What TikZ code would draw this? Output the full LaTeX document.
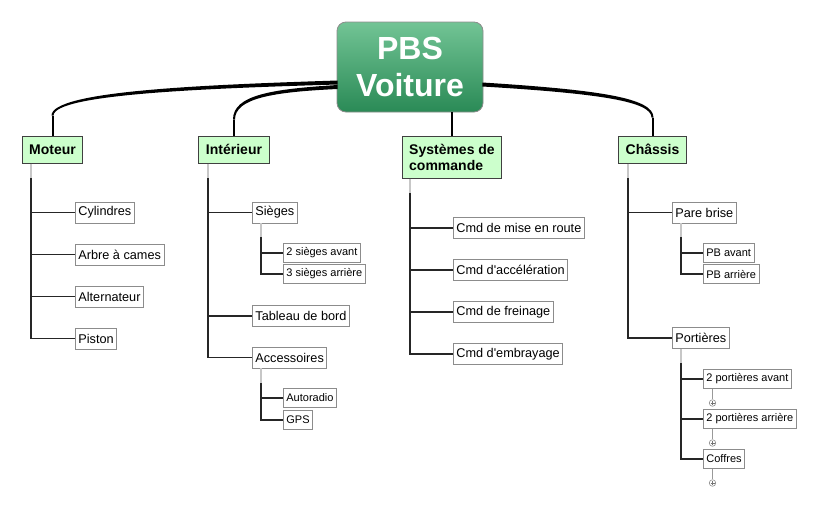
\documentclass[tikz,border=0pt]{standalone}
\usepackage{fontspec}
\setmainfont{Liberation Sans}[Ligatures=TeXOff]
\usetikzlibrary{calc}
\definecolor{brfill}{HTML}{CCFFCC}
\definecolor{roottop}{HTML}{72C495}
\definecolor{rootbot}{HTML}{2A8A56}
\tikzset{
  rootbox/.style={rounded corners=9pt, draw=black!45, line width=0.8pt, top color=roottop, bottom color=rootbot, text=white,
    font=\fontsize{32}{37}\selectfont\bfseries, align=center, minimum width=146pt, minimum height=90pt, inner sep=0pt},
  branchbox/.style={draw=black!75, line width=1pt, fill=brfill, font=\fontsize{14}{16}\selectfont\bfseries, align=left,
    inner xsep=7pt, inner ysep=0pt, minimum height=27pt},
  leaf/.style={draw=black!45, line width=0.8pt, fill=white, font=\fontsize{12.7}{14}\selectfont, anchor=west,
    inner xsep=3pt, inner ysep=0pt, minimum height=21pt},
  leafs/.style={draw=black!45, line width=0.8pt, fill=white, font=\fontsize{11}{13}\selectfont, anchor=west,
    inner xsep=3pt, inner ysep=0pt, minimum height=19pt},
  trunk/.style={draw=black!85, line width=1.2pt},
  stub/.style={draw=black!22, line width=1.2pt},
  thinstub/.style={draw=black!40, line width=0.8pt},
  mainline/.style={fill=black},
  plusnode/.style={circle, draw=black!45, line width=0.6pt, minimum size=6.5pt, inner sep=0pt},
  plusline/.style={draw=black!55, line width=0.5pt},
}
\begin{document}
\begin{tikzpicture}[x=1pt,y=-1pt]
\useasboundingbox (0,0) rectangle (820,509);

% root
\node[rootbox] (root) at (410,67) {PBS\\Voiture};

% branches
\node[branchbox] (moteur) at (52.5,149.5) {Moteur};
\node[branchbox] (inter) at (234,149.5) {Intérieur};
\node[branchbox, minimum height=42pt] (sys) at (452,157) {Systèmes de\\commande};
\node[branchbox] (chassis) at (652.5,149.5) {Châssis};

% main curved connectors (tapered)
\coordinate (mA) at ($(moteur.north)+(0,-20)$);
\coordinate (iA) at ($(inter.north)+(0,-16)$);
\coordinate (cA) at ($(chassis.north)+(0,-18)$);
\fill[mainline] ($(root.west)+(1,13.5)$) .. controls (200,85) and (51.8,91) .. ($(mA)+(-1,0)$)
   -- ($(mA)+(1,0)$) .. controls (54.2,94.5) and (200,88.5) .. ($(root.west)+(1,17.5)$) -- cycle;
\draw[line width=2pt] (mA) -- (moteur.north);
\fill[mainline] ($(root.west)+(1,18)$) .. controls (272,89) and (233,95) .. ($(iA)+(-1,0)$)
   -- ($(iA)+(1,0)$) .. controls (235,98.5) and (272,92) .. ($(root.west)+(1,22)$) -- cycle;
\draw[line width=2pt] (iA) -- (inter.north);
\fill[mainline] ($(root.east)+(-1,15.5)$) .. controls (600,90) and (653.5,98) .. ($(cA)+(1,0)$)
   -- ($(cA)+(-1,0)$) .. controls (651.5,101.5) and (600,93.5) .. ($(root.east)+(-1,19.5)$) -- cycle;
\draw[line width=2pt] (cA) -- (chassis.north);
\draw[line width=2pt] (root.south -| sys.north) -- (sys.north);

% ---- Moteur
\node[leaf] (cyl) at (75,212.5) {Cylindres};
\node[leaf] (arbre) at (75,254.5) {Arbre à cames};
\node[leaf] (alt) at (75,296.5) {Alternateur};
\node[leaf] (piston) at (75,338.5) {Piston};
\coordinate (mt) at (31,178);
\draw[stub] (moteur.south -| mt) -- (mt);
\foreach \c in {cyl,arbre,alt,piston} \draw[trunk] (mt) |- (\c.west);

% ---- Interieur
\node[leaf] (sieges) at (252,212.5) {Sièges};
\node[leafs] (sav) at (283,253) {2 sièges avant};
\node[leafs] (sar) at (283,274) {3 sièges arrière};
\node[leaf] (tab) at (252,316) {Tableau de bord};
\node[leaf] (acc) at (252,357.5) {Accessoires};
\node[leafs] (auto) at (283,398) {Autoradio};
\node[leafs] (gps) at (283,420) {GPS};
\coordinate (it) at (208,178);
\draw[stub] (inter.south -| it) -- (it);
\foreach \c in {sieges,tab,acc} \draw[trunk] (it) |- (\c.west);
\coordinate (st) at (261,237);
\draw[stub] (sieges.south -| st) -- (st);
\foreach \c in {sav,sar} \draw[trunk] (st) |- (\c.west);
\coordinate (at) at (261,383);
\draw[stub] (acc.south -| at) -- (at);
\foreach \c in {auto,gps} \draw[trunk] (at) |- (\c.west);

% ---- Systemes de commande
\node[leaf] (c1) at (453,228) {Cmd de mise en route};
\node[leaf] (c2) at (453,270) {Cmd d'accélération};
\node[leaf] (c3) at (453,312) {Cmd de freinage};
\node[leaf] (c4) at (453,354) {Cmd d'embrayage};
\coordinate (sy) at (410,193);
\draw[stub] (sys.south -| sy) -- (sy);
\foreach \c in {c1,c2,c3,c4} \draw[trunk] (sy) |- (\c.west);

% ---- Chassis
\node[leaf] (pb) at (672,212.5) {Pare brise};
\node[leafs] (pbav) at (703,253) {PB avant};
\node[leafs] (pbar) at (703,274) {PB arrière};
\node[leaf] (port) at (672,338) {Portières};
\node[leafs] (p2av) at (703,379) {2 portières avant};
\node[leafs] (p2ar) at (703,419) {2 portières arrière};
\node[leafs] (coff) at (703,459) {Coffres};
\coordinate (ct) at (628,178);
\draw[stub] (chassis.south -| ct) -- (ct);
\foreach \c in {pb,port} \draw[trunk] (ct) |- (\c.west);
\coordinate (pt) at (681,237);
\draw[stub] (pb.south -| pt) -- (pt);
\foreach \c in {pbav,pbar} \draw[trunk] (pt) |- (\c.west);
\coordinate (ptt) at (681,363);
\draw[stub] (port.south -| ptt) -- (ptt);
\foreach \c in {p2av,p2ar,coff} \draw[trunk] (ptt) |- (\c.west);

% plus markers
\node[plusnode] (pl1) at (712.5,403) {};
\node[plusnode] (pl2) at (712.5,443) {};
\node[plusnode] (pl3) at (712.5,483) {};
\draw[thinstub] (p2av.south -| pl1) -- (pl1.north);
\draw[thinstub] (p2ar.south -| pl2) -- (pl2.north);
\draw[thinstub] (coff.south -| pl3) -- (pl3.north);
\foreach \p in {pl1,pl2,pl3} {
  \draw[plusline] ($(\p.center)+(-2,0)$) -- ($(\p.center)+(2,0)$);
  \draw[plusline] ($(\p.center)+(0,-2)$) -- ($(\p.center)+(0,2)$);
}
\end{tikzpicture}
\end{document}
